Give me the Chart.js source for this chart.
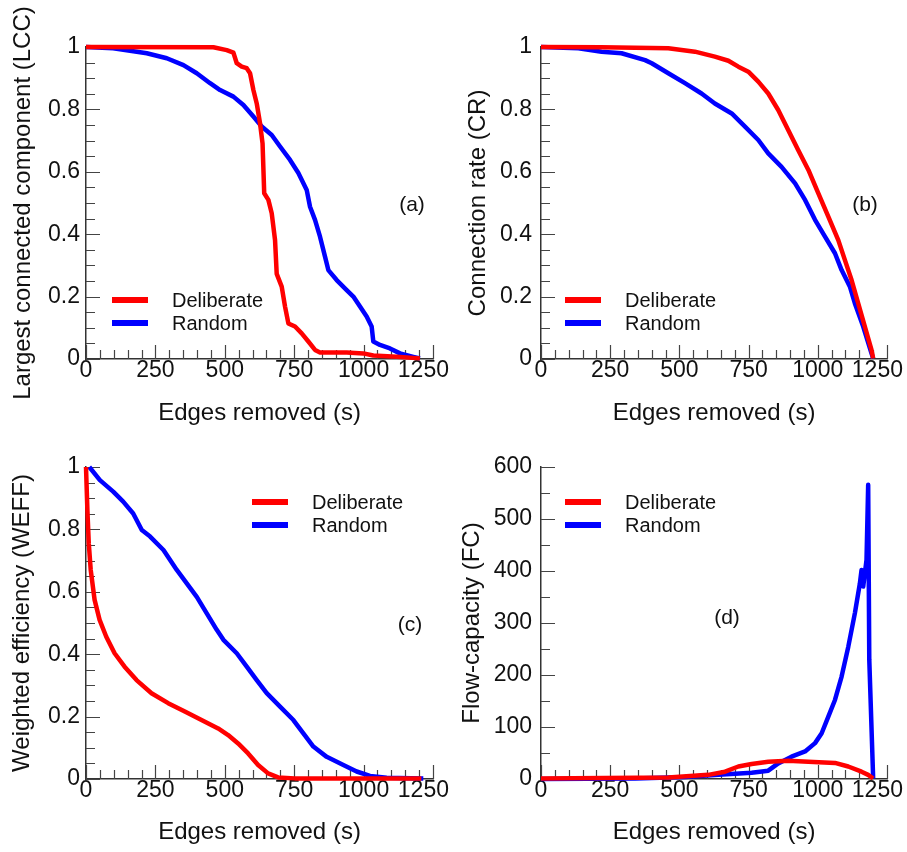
<!DOCTYPE html>
<html>
<head>
<meta charset="utf-8">
<title>Network robustness</title>
<script src="https://cdn.jsdelivr.net/npm/chart.js@4.4.1/dist/chart.umd.min.js"></script>
<style>
  html, body { margin: 0; background: #fff; overflow: hidden; }
  #wrap { position: relative; width: 907px; height: 852px; }
  canvas { position: absolute; }
</style>
</head>
<body>
<div id="wrap">
  <canvas id="chartA" width="453" height="430" style="left:0;top:0"></canvas>
  <canvas id="chartB" width="454" height="430" style="left:453px;top:0"></canvas>
  <canvas id="chartC" width="453" height="430" style="left:0;top:420px"></canvas>
  <canvas id="chartD" width="454" height="430" style="left:453px;top:420px"></canvas>
</div>
<script>
// tick labels
var xTicks = [0, 250, 500, 750, 1000, 1250];
var yTicksUnit = [0, 0.2, 0.4, 0.6, 0.8, 1];
var yTicksFc = [0, 100, 200, 300, 400, 500, 600];
var seriesNames = ["Deliberate", "Random"];

// (a) largest connected component
var lccDelX = [0, 459, 507, 531, 543, 561, 579, 591, 603, 615, 627, 636, 642, 657, 669, 681, 687, 705, 717, 729, 753, 777, 801, 825, 843, 939, 999, 1035, 1119, 1203];
var lccDelY = [1, 0.999, 0.99, 0.982, 0.948, 0.937, 0.932, 0.916, 0.862, 0.819, 0.755, 0.691, 0.531, 0.51, 0.467, 0.381, 0.273, 0.232, 0.168, 0.114, 0.104, 0.082, 0.056, 0.029, 0.021, 0.021, 0.018, 0.011, 0.007, 0.002];
var lccRndX = [0, 98, 219, 291, 351, 399, 447, 483, 531, 567, 603, 633, 669, 699, 735, 765, 795, 807, 825, 843, 861, 873, 903, 939, 963, 987, 1011, 1029, 1035, 1059, 1095, 1131, 1179, 1203];
var lccRndY = [1, 0.996, 0.98, 0.964, 0.942, 0.916, 0.884, 0.862, 0.841, 0.814, 0.777, 0.745, 0.718, 0.681, 0.638, 0.596, 0.542, 0.488, 0.446, 0.392, 0.328, 0.285, 0.253, 0.221, 0.2, 0.168, 0.136, 0.104, 0.056, 0.045, 0.034, 0.018, 0.007, 0.002];

// (b) connection rate
var crDelX = [0, 219, 460, 556, 628, 677, 713, 749, 785, 821, 857, 893, 929, 966, 1002, 1038, 1074, 1098, 1122, 1146, 1170, 1194, 1200];
var crDelY = [1, 0.999, 0.996, 0.985, 0.969, 0.956, 0.937, 0.921, 0.889, 0.851, 0.798, 0.734, 0.67, 0.606, 0.531, 0.456, 0.381, 0.317, 0.253, 0.178, 0.104, 0.029, 0.002];
var crRndX = [0, 135, 219, 291, 376, 400, 460, 520, 580, 628, 689, 737, 785, 821, 869, 918, 954, 990, 1026, 1062, 1086, 1116, 1134, 1164, 1194, 1200];
var crRndY = [1, 0.996, 0.985, 0.98, 0.958, 0.948, 0.916, 0.884, 0.851, 0.819, 0.787, 0.745, 0.702, 0.659, 0.616, 0.563, 0.51, 0.446, 0.392, 0.339, 0.285, 0.232, 0.178, 0.104, 0.018, 0.002];

// (c) weighted efficiency
var weffDelX = [0, 5, 10, 17, 31, 49, 73, 103, 139, 182, 236, 296, 356, 416, 476, 512, 548, 584, 620, 656, 692, 752, 1208];
var weffDelY = [1, 0.862, 0.755, 0.67, 0.574, 0.51, 0.456, 0.403, 0.36, 0.317, 0.275, 0.243, 0.216, 0.189, 0.162, 0.141, 0.114, 0.082, 0.045, 0.018, 0.005, 0.002, 0.002];
var weffRndX = [12, 50, 98, 134, 170, 201, 231, 279, 327, 363, 399, 435, 471, 495, 543, 579, 615, 651, 699, 747, 783, 819, 867, 927, 975, 1023, 1083, 1215];
var weffRndY = [1, 0.958, 0.921, 0.889, 0.851, 0.798, 0.777, 0.734, 0.67, 0.627, 0.584, 0.531, 0.478, 0.446, 0.403, 0.36, 0.317, 0.275, 0.232, 0.189, 0.146, 0.104, 0.071, 0.045, 0.024, 0.01, 0.004, 0.002];

// (d) flow capacity
var fcDelX = [0, 460, 604, 665, 713, 761, 821, 893, 966, 1062, 1110, 1158, 1182, 1200];
var fcDelY = [1, 3, 8, 14, 24, 29, 33, 35, 33, 31, 24, 14, 8, 1];
var fcRndX = [0, 340, 520, 641, 701, 761, 821, 857, 905, 954, 990, 1014, 1038, 1062, 1086, 1110, 1134, 1152, 1158, 1164, 1176, 1182, 1186, 1200];
var fcRndY = [0, 1, 4, 8, 10, 12, 16, 30, 43, 53, 69, 88, 120, 152, 197, 254, 319, 376, 402, 370, 421, 566, 229, 1];

var FONT = '"Liberation Sans", Arial, Helvetica, sans-serif';

function pts(xs, ys) {
  return xs.map(function (x, i) { return { x: x, y: ys[i] }; });
}

function isMajor(v, step) {
  var r = v / step;
  return Math.abs(r - Math.round(r)) < 1e-6;
}

// inward tick marks, long on majors
var axisTicks = {
  id: "axisTicks",
  beforeDatasetsDraw: function (chart, args, o) {
    var ctx = chart.ctx, xs = chart.scales.x, ys = chart.scales.y, a = chart.chartArea;
    ctx.save();
    ctx.strokeStyle = "#444";
    ctx.lineWidth = 1.2;
    ctx.beginPath();
    var n = Math.round((xs.max - xs.min) / o.xMinor);
    for (var i = 0; i <= n; i++) {
      var v = xs.min + i * o.xMinor;
      var px = Math.round(xs.getPixelForValue(v)) + 0.5;
      ctx.moveTo(px, a.bottom);
      ctx.lineTo(px, a.bottom - (isMajor(v, o.xMajor) ? 14 : 9));
    }
    n = Math.round((ys.max - ys.min) / o.yMinor);
    for (var j = 0; j <= n; j++) {
      var w = ys.min + j * o.yMinor;
      var py = Math.round(ys.getPixelForValue(w)) + 0.5;
      ctx.moveTo(a.left, py);
      ctx.lineTo(a.left + (isMajor(w, o.yMajor) ? 14 : 9), py);
    }
    ctx.stroke();
    ctx.restore();
  }
};

// legend lines + panel letter
var deco = {
  id: "deco",
  afterDatasetsDraw: function (chart, args, o) {
    var ctx = chart.ctx;
    ctx.save();
    chart.data.datasets.forEach(function (ds, i) {
      var y = o.legY + i * 23;
      ctx.strokeStyle = ds.borderColor;
      ctx.lineWidth = 6;
      ctx.beginPath();
      ctx.moveTo(o.legX, y);
      ctx.lineTo(o.legX + 36, y);
      ctx.stroke();
      ctx.fillStyle = "#111";
      ctx.font = "20px " + FONT;
      ctx.textAlign = "left";
      ctx.textBaseline = "middle";
      ctx.fillText(ds.label, o.legX + 60, y + 1);
    });
    ctx.font = "21px " + FONT;
    ctx.textAlign = "center";
    ctx.fillText(o.tag, o.tagX, o.tagY);
    ctx.restore();
  }
};

function makeChart(id, p) {
  return new Chart(id, {
    type: "line",
    data: {
      datasets: [
        { label: seriesNames[0], data: pts(p.delX, p.delY), borderColor: "#ff0000", backgroundColor: "#ff0000" },
        { label: seriesNames[1], data: pts(p.rndX, p.rndY), borderColor: "#0000ff", backgroundColor: "#0000ff" }
      ]
    },
    plugins: [axisTicks, deco],
    options: {
      responsive: false,
      animation: false,
      events: [],
      layout: { padding: { left: 0, top: 47, right: p.padRight, bottom: 0 } },
      elements: {
        point: { radius: 0 },
        line: { tension: 0, borderWidth: 4.5, borderJoinStyle: "round" }
      },
      datasets: { line: { clip: false } },
      plugins: {
        legend: { display: false },
        tooltip: { enabled: false },
        axisTicks: { xMinor: 50, xMajor: 250, yMinor: p.yMinor, yMajor: p.yMajor },
        deco: { legX: p.legX, legY: p.legY, tag: p.tag, tagX: p.tagX, tagY: p.tagY }
      },
      scales: {
        x: {
          type: "linear",
          min: 0,
          max: 1250,
          afterBuildTicks: function (s) { s.ticks = xTicks.map(function (v) { return { value: v }; }); },
          afterFit: function (s) {
            s.height = 71;
            s.paddingLeft = 0; s.paddingRight = 0; s.paddingTop = 0; s.paddingBottom = 0;
          },
          grid: { display: true, drawOnChartArea: false, drawTicks: false },
          border: { display: true, color: "#333", width: 1.5 },
          ticks: {
            autoSkip: false,
            maxRotation: 0,
            minRotation: 0,
            padding: 0,
            color: "#111",
            font: { family: FONT, size: 23, lineHeight: 1 },
            callback: function (v) {
              return v === xTicks[xTicks.length - 1] ? v + "\u00a0\u00a0\u00a0" : String(v);
            }
          },
          title: {
            display: true,
            text: "Edges removed (s)",
            color: "#111",
            font: { family: FONT, size: 24, lineHeight: 1 },
            padding: { top: 0, bottom: p.xTitlePad }
          }
        },
        y: {
          type: "linear",
          min: p.yTicks[0],
          max: p.yTicks[p.yTicks.length - 1],
          afterBuildTicks: function (s) { s.ticks = p.yTicks.map(function (v) { return { value: v }; }); },
          afterFit: function (s) {
            s.width = p.yWidth;
            s.paddingLeft = 0; s.paddingRight = 0; s.paddingTop = 0; s.paddingBottom = 0;
          },
          grid: { display: true, drawOnChartArea: false, drawTicks: false },
          border: { display: true, color: "#333", width: 1.5 },
          ticks: {
            padding: p.yTickPad,
            color: "#111",
            font: { family: FONT, size: 23, lineHeight: 1 },
            callback: function (v) { return String(v); }
          },
          title: {
            display: true,
            text: p.yTitle,
            color: "#111",
            font: { family: FONT, size: 24, lineHeight: 1 },
            padding: { top: p.yTitlePad, bottom: 0 }
          }
        }
      }
    }
  });
}

makeChart("chartA", {
  delX: lccDelX, delY: lccDelY, rndX: lccRndX, rndY: lccRndY,
  yTicks: yTicksUnit, yMinor: 0.05, yMajor: 0.2,
  yTitle: "Largest connected component (LCC)",
  padRight: 20, yWidth: 86, yTickPad: 6, yTitlePad: 11, xTitlePad: 5,
  legX: 112, legY: 300, tag: "(a)", tagX: 412, tagY: 205
});

makeChart("chartB", {
  delX: crDelX, delY: crDelY, rndX: crRndX, rndY: crRndY,
  yTicks: yTicksUnit, yMinor: 0.05, yMajor: 0.2,
  yTitle: "Connection rate (CR)",
  padRight: 20, yWidth: 88, yTickPad: 9, yTitlePad: 13, xTitlePad: 5,
  legX: 112, legY: 300, tag: "(b)", tagX: 412, tagY: 205
});

makeChart("chartC", {
  delX: weffDelX, delY: weffDelY, rndX: weffRndX, rndY: weffRndY,
  yTicks: yTicksUnit, yMinor: 0.05, yMajor: 0.2,
  yTitle: "Weighted efficiency (WEFF)",
  padRight: 20, yWidth: 86, yTickPad: 6, yTitlePad: 10, xTitlePad: 6,
  legX: 252, legY: 82, tag: "(c)", tagX: 410, tagY: 205
});

makeChart("chartD", {
  delX: fcDelX, delY: fcDelY, rndX: fcRndX, rndY: fcRndY,
  yTicks: yTicksFc, yMinor: 50, yMajor: 100,
  yTitle: "Flow-capacity (FC)",
  padRight: 20, yWidth: 88, yTickPad: 9, yTitlePad: 7, xTitlePad: 6,
  legX: 112, legY: 82, tag: "(d)", tagX: 274, tagY: 198
});
</script>
</body>
</html>
